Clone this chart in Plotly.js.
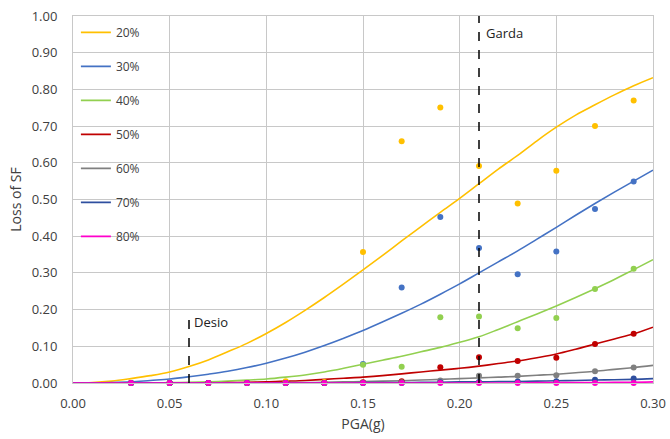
<!DOCTYPE html>
<html><head><meta charset="utf-8">
<script src="https://cdn.plot.ly/plotly-3.0.1.min.js"></script>
<style>body{margin:0;background:#fff}#c{width:670px;height:439px}</style>
</head><body><div id="c"></div>
<script>
const seriesNames = ['20%','30%','40%','50%','60%','70%','80%'];
const colors = ['#FFC000','#4472C4','#92D050','#C00000','#808080','#2F4F9F','#FF00CC'];
const curveX = [0,0.01,0.02,0.03,0.04,0.05,0.06,0.07,0.08,0.09,0.10,0.11,0.12,0.13,0.14,0.15,0.16,0.17,0.18,0.19,0.20,0.21,0.22,0.23,0.24,0.25,0.26,0.27,0.28,0.29,0.30];
const curve20 = [0,0.001,0.005,0.012,0.02,0.03,0.045,0.063,0.085,0.108,0.135,0.165,0.198,0.233,0.27,0.308,0.347,0.387,0.426,0.465,0.503,0.543,0.583,0.62,0.66,0.697,0.73,0.758,0.785,0.81,0.832];
const curve30 = [0,0,0.001,0.003,0.007,0.011,0.017,0.024,0.032,0.042,0.054,0.068,0.084,0.102,0.122,0.143,0.166,0.19,0.215,0.242,0.27,0.300,0.33,0.36,0.392,0.424,0.457,0.489,0.52,0.55,0.58];
const curve40 = [0,0,0,0,0,0.001,0.002,0.003,0.005,0.008,0.011,0.016,0.022,0.03,0.04,0.051,0.062,0.073,0.085,0.097,0.111,0.126,0.146,0.167,0.188,0.21,0.233,0.257,0.282,0.309,0.336];
const curve50 = [0,0,0,0,0,0,0,0,0.001,0.002,0.003,0.005,0.007,0.01,0.013,0.016,0.02,0.025,0.03,0.035,0.04,0.046,0.053,0.06,0.069,0.079,0.092,0.106,0.12,0.134,0.152];
const curve60 = [0,0,0,0,0,0,0,0,0,0,0,0.001,0.001,0.002,0.003,0.004,0.005,0.006,0.008,0.01,0.012,0.014,0.016,0.018,0.021,0.024,0.028,0.032,0.037,0.042,0.048];
const curve70 = [0,0,0,0,0,0,0,0,0,0,0,0,0,0,0,0.001,0.001,0.001,0.002,0.002,0.003,0.003,0.004,0.004,0.005,0.006,0.007,0.008,0.009,0.01,0.012];
const curve80 = [0,0,0,0,0,0,0,0,0,0,0,0,0,0,0,0,0,0,0,0,0,0,0,0,0.001,0.001,0.001,0.001,0.002,0.002,0.003];
const pointX = [0.03,0.05,0.07,0.09,0.11,0.13,0.15,0.17,0.19,0.21,0.23,0.25,0.27,0.29];
const pts20 = [0,0,0,0,0.005,0.003,0.357,0.659,0.751,0.591,0.489,0.578,0.70,0.77];
const pts30 = [0,0,0,0,0,0,0.052,0.26,0.452,0.368,0.296,0.358,0.474,0.549];
const pts40 = [0,0,0,0,0,0,0.05,0.044,0.179,0.181,0.149,0.177,0.256,0.311];
const pts50 = [0,0,0,0,0,0,0.002,0.005,0.043,0.07,0.06,0.069,0.106,0.134];
const pts60 = [0,0,0,0,0,0,0,0.002,0.007,0.02,0.02,0.021,0.032,0.042];
const pts70 = [0,0,0,0,0,0,0,0,0.002,0.003,0.004,0.005,0.009,0.012];
const pts80 = [0,0,0,0,0,0,0,0,0,0,0,0,0,0];
const xTicks = [0,0.05,0.10,0.15,0.20,0.25,0.30];
const yTicks = [0,0.1,0.2,0.3,0.4,0.5,0.6,0.7,0.8,0.9,1.0];
const desioX = 0.06, desioTop = 0.19, gardaX = 0.21, gardaTop = 1.0;

const curves = [curve20,curve30,curve40,curve50,curve60,curve70,curve80];
const pts = [pts20,pts30,pts40,pts50,pts60,pts70,pts80];
const traces = [];
for (let i = 0; i < 7; i++) {
  traces.push({x: curveX, y: curves[i], type:'scatter', mode:'lines', name: seriesNames[i],
    legendgroup:'g'+i, line:{color:colors[i], width:1.6, shape:'spline'}});
}
for (let i = 0; i < 7; i++) {
  traces.push({x: pointX, y: pts[i], type:'scatter', mode:'markers', showlegend:false, cliponaxis:false,
    marker:{color:colors[i], size:6}, hoverinfo:'skip'});
}
const font = {family:'"Open Sans", "Liberation Sans", sans-serif', size:13, color:'#404040'};
const layout = {
  width:670, height:439, margin:{l:73, r:17, t:16, b:56},
  paper_bgcolor:'#fff', plot_bgcolor:'#fff', font: font,
  xaxis:{range:[0,0.30], tickvals:xTicks, tickformat:'.2f', showgrid:true, gridcolor:'#c8c8c8',
    zeroline:false, showline:true, linecolor:'#c8c8c8', mirror:true, ticks:'outside', ticklen:8, tickcolor:'rgba(0,0,0,0)',
    title:{text:'PGA(g)', font:{size:14, color:'#404040'}, standoff:8}},
  yaxis:{range:[0,1.0], tickvals:yTicks, tickformat:'.2f', showgrid:true, gridcolor:'#c8c8c8',
    zeroline:false, showline:true, linecolor:'#c8c8c8', mirror:true, ticks:'outside', ticklen:12, tickcolor:'rgba(0,0,0,0)',
    title:{text:'Loss of SF', font:{size:14, color:'#404040'}, standoff:6}},
  legend:{x:0.005, y:0.995, xanchor:'left', yanchor:'top', bgcolor:'rgba(255,255,255,0)',
    font:{size:12, color:'#404040'}, traceorder:'grouped', tracegroupgap:15, itemwidth:30},
  shapes:[
    {type:'line', xref:'x', yref:'y', x0:desioX, x1:desioX, y0:0, y1:desioTop, line:{color:'#000', width:1.5, dash:'dash'}},
    {type:'line', xref:'x', yref:'y', x0:gardaX, x1:gardaX, y0:0, y1:gardaTop, line:{color:'#000', width:1.5, dash:'dash'}}
  ],
  annotations:[
    {x:desioX, y:0.165, xref:'x', yref:'y', text:'Desio', showarrow:false, xanchor:'left', xshift:3, font:{size:13, color:'#222'}},
    {x:gardaX, y:0.955, xref:'x', yref:'y', text:'Garda', showarrow:false, xanchor:'left', xshift:5, font:{size:13, color:'#222'}}
  ]
};
Plotly.newPlot('c', traces, layout, {staticPlot:true});
</script></body></html>
